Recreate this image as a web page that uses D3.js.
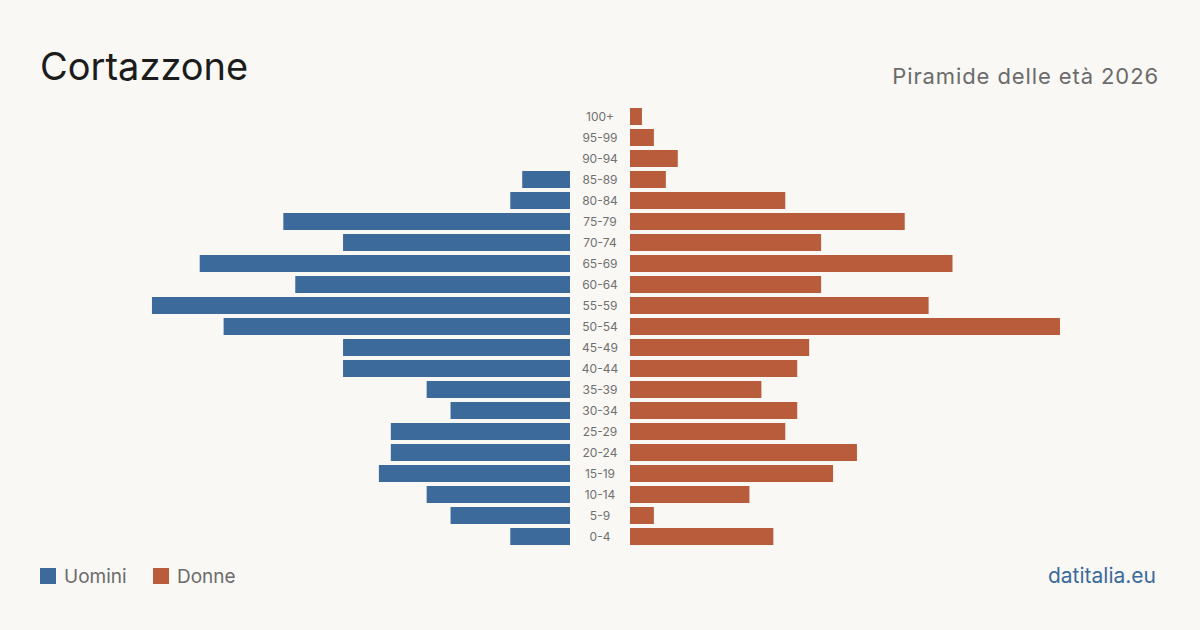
<!DOCTYPE html>
<html>
<head>
<meta charset="utf-8">
<script src="https://cdn.jsdelivr.net/npm/d3@7"></script>
<style>
  body { margin: 0; background: #f9f8f4; }
  svg { display: block; font-family: Inter, "Liberation Sans", sans-serif; }
</style>
</head>
<body>
<svg id="chart" width="1200" height="630"></svg>
<script>
const ageGroups = ['100+', '95-99', '90-94', '85-89', '80-84', '75-79', '70-74', '65-69', '60-64', '55-59',
    '50-54', '45-49', '40-44', '35-39', '30-34', '25-29', '20-24', '15-19', '10-14', '5-9', '0-4']
const men = [0, 0, 0, 4, 5, 24, 19, 31, 23, 35, 29, 19, 19, 12, 10, 15, 15, 16, 12, 10, 5]
const women = [1, 2, 4, 3, 13, 23, 16, 27, 16, 25, 36, 15, 14, 11, 14, 13, 19, 17, 10, 2, 12]
const legendLabels = ['Uomini', 'Donne']

const BLUE = '#3b6a9b'
const RED = '#b95c3c'

function renderPyramid() {
    const svg = d3.select('#chart')
    const width = +svg.attr('width')

    svg.append('rect').attr('width', width).attr('height', 630).attr('fill', '#f9f8f4')

    // ========= TITLES =========== \\
    svg.append('text').text('Cortazzone')
        .attr('x', 40).attr('y', 80)
        .attr('font-size', 38).attr('fill', '#1c1c1c')

    svg.append('text').text('Piramide delle età 2026')
        .attr('x', 1159).attr('y', 84)
        .attr('text-anchor', 'end')
        .attr('font-size', 22).attr('letter-spacing', 0.9).attr('fill', '#6b6b6b')

    // ========= SCALES =========== \\
    const maxVal = d3.max([...men, ...women])
    const x = d3.scaleLinear().domain([0, maxVal]).range([0, 430])
    const y = d3.scaleBand().domain(ageGroups).range([104, 549]).padding(0.19)

    const leftEdge = 570
    const rightEdge = 630

    // ============ BARS ============== \\
    svg.append('g').selectAll('rect')
        .data(ageGroups)
        .join('rect')
        .attr('x', (d, i) => leftEdge - x(men[i]))
        .attr('y', d => y(d))
        .attr('width', (d, i) => x(men[i]))
        .attr('height', y.bandwidth())
        .attr('fill', BLUE)

    svg.append('g').selectAll('rect')
        .data(ageGroups)
        .join('rect')
        .attr('x', rightEdge)
        .attr('y', d => y(d))
        .attr('width', (d, i) => x(women[i]))
        .attr('height', y.bandwidth())
        .attr('fill', RED)

    // ============ AGE LABELS ============== \\
    svg.append('g').selectAll('text')
        .data(ageGroups)
        .join('text')
        .attr('x', 600)
        .attr('y', d => y(d) + y.bandwidth() / 2)
        .attr('dy', '0.35em')
        .attr('text-anchor', 'middle')
        .attr('font-size', 12)
        .attr('fill', '#707070')
        .text(d => d)

    // ============ LEGEND ============== \\
    const legendX = [40, 153]
    const colors = [BLUE, RED]
    legendLabels.forEach((label, i) => {
        svg.append('rect')
            .attr('x', legendX[i]).attr('y', 568)
            .attr('width', 16).attr('height', 16)
            .attr('fill', colors[i])
        svg.append('text')
            .attr('x', legendX[i] + 24).attr('y', 583)
            .attr('font-size', 19).attr('fill', '#6b6b6b')
            .text(label)
    })

    svg.append('text').text('datitalia.eu')
        .attr('x', 1156).attr('y', 583)
        .attr('text-anchor', 'end')
        .attr('font-size', 21).attr('fill', BLUE)
}

renderPyramid()
</script>
</body>
</html>
